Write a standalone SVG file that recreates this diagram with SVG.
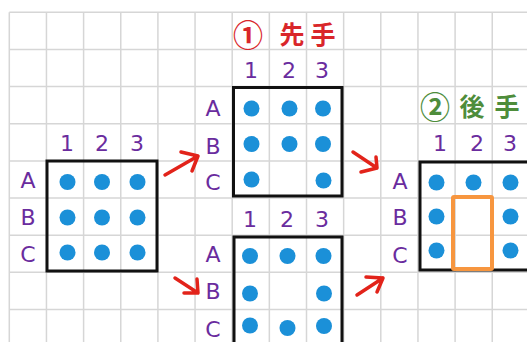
<svg xmlns="http://www.w3.org/2000/svg" width="527" height="342" viewBox="0 0 527 342">
<style>
.grid line{stroke:#d6d6d6;stroke-width:1.5}
.box{fill:none;stroke:#111;stroke-width:3}
.dot{fill:#1b90d8}
.lbl{font-family:"DejaVu Sans","Noto Sans",sans-serif;font-size:22px;fill:#6a2c9e;text-anchor:middle;dominant-baseline:central}
.hdr{font-family:"Noto Sans CJK JP","Noto Sans CJK SC",sans-serif;font-size:25px;font-weight:bold;text-anchor:middle;dominant-baseline:central}
.num{font-size:30px}
.arrow{fill:none;stroke:#e2231a;stroke-width:3.5;stroke-linecap:round;stroke-linejoin:round}
.sel{fill:none;stroke:#f7963f;stroke-width:4}
</style>
<rect width="527" height="342" fill="#fff"/>
<g class="grid">
<line x1="9.3" y1="12.3" x2="9.3" y2="342"/>
<line x1="46.45" y1="12.3" x2="46.45" y2="342"/>
<line x1="83.6" y1="12.3" x2="83.6" y2="342"/>
<line x1="120.75" y1="12.3" x2="120.75" y2="342"/>
<line x1="157.9" y1="12.3" x2="157.9" y2="342"/>
<line x1="195.05" y1="12.3" x2="195.05" y2="342"/>
<line x1="232.2" y1="12.3" x2="232.2" y2="342"/>
<line x1="269.35" y1="12.3" x2="269.35" y2="342"/>
<line x1="306.5" y1="12.3" x2="306.5" y2="342"/>
<line x1="343.65" y1="12.3" x2="343.65" y2="342"/>
<line x1="380.8" y1="12.3" x2="380.8" y2="342"/>
<line x1="417.95" y1="12.3" x2="417.95" y2="342"/>
<line x1="455.1" y1="12.3" x2="455.1" y2="342"/>
<line x1="492.25" y1="12.3" x2="492.25" y2="342"/>
<line x1="9.3" y1="12.3" x2="527" y2="12.3"/>
<line x1="9.3" y1="49.45" x2="527" y2="49.45"/>
<line x1="9.3" y1="86.6" x2="527" y2="86.6"/>
<line x1="9.3" y1="123.75" x2="527" y2="123.75"/>
<line x1="9.3" y1="160.9" x2="527" y2="160.9"/>
<line x1="9.3" y1="198.05" x2="527" y2="198.05"/>
<line x1="9.3" y1="235.2" x2="527" y2="235.2"/>
<line x1="9.3" y1="272.35" x2="527" y2="272.35"/>
<line x1="9.3" y1="309.5" x2="527" y2="309.5"/>
</g>

<g id="board-start">
<text class="lbl" x="67" y="143">1</text>
<text class="lbl" x="102" y="143">2</text>
<text class="lbl" x="137" y="143">3</text>
<text class="lbl" x="28" y="180">A</text>
<text class="lbl" x="28" y="217">B</text>
<text class="lbl" x="28" y="254">C</text>
<rect class="box" x="47" y="161" width="110" height="110"/>
<circle class="dot" cx="67.5" cy="182" r="8"/>
<circle class="dot" cx="102" cy="182" r="8"/>
<circle class="dot" cx="137.5" cy="182" r="8"/>
<circle class="dot" cx="67.5" cy="217.5" r="8"/>
<circle class="dot" cx="102" cy="217.5" r="8"/>
<circle class="dot" cx="137.5" cy="217.5" r="8"/>
<circle class="dot" cx="67.5" cy="252.5" r="8"/>
<circle class="dot" cx="102" cy="252.5" r="8"/>
<circle class="dot" cx="137.5" cy="252.5" r="8"/>
</g>

<g id="board-first">
<text class="hdr num" x="248" y="33" fill="#d9262a">①</text>
<text class="hdr" x="292" y="33" fill="#d9262a">先</text>
<text class="hdr" x="323" y="33" fill="#d9262a">手</text>
<text class="lbl" x="251" y="70">1</text>
<text class="lbl" x="289" y="70">2</text>
<text class="lbl" x="322" y="70">3</text>
<text class="lbl" x="213" y="108">A</text>
<text class="lbl" x="213" y="146">B</text>
<text class="lbl" x="213" y="182">C</text>
<rect class="box" x="233.5" y="87.5" width="108.5" height="108.5"/>
<circle class="dot" cx="251.5" cy="108.5" r="8"/>
<circle class="dot" cx="289.5" cy="108.5" r="8"/>
<circle class="dot" cx="323" cy="108.5" r="8"/>
<circle class="dot" cx="251.5" cy="144" r="8"/>
<circle class="dot" cx="289.5" cy="144" r="8"/>
<circle class="dot" cx="323" cy="144" r="8"/>
<circle class="dot" cx="251.5" cy="179.5" r="8"/>
<circle class="dot" cx="323.5" cy="180.5" r="8"/>
</g>

<g id="board-alt">
<text class="lbl" x="250" y="219">1</text>
<text class="lbl" x="287" y="219">2</text>
<text class="lbl" x="322" y="219">3</text>
<text class="lbl" x="213" y="254">A</text>
<text class="lbl" x="213" y="291">B</text>
<text class="lbl" x="213" y="329">C</text>
<path class="box" d="M234 345 V237 H342 V345"/>
<circle class="dot" cx="250" cy="256" r="8"/>
<circle class="dot" cx="287.5" cy="256" r="8"/>
<circle class="dot" cx="323.5" cy="256" r="8"/>
<circle class="dot" cx="250" cy="293.5" r="8"/>
<circle class="dot" cx="324" cy="293.5" r="8"/>
<circle class="dot" cx="250" cy="325.5" r="8"/>
<circle class="dot" cx="287.5" cy="328" r="8"/>
<circle class="dot" cx="324" cy="326" r="8"/>
</g>

<g id="board-second">
<text class="hdr num" x="435" y="105" fill="#4e8d3b">②</text>
<text class="hdr" x="472" y="105" fill="#4e8d3b">後</text>
<text class="hdr" x="507" y="105" fill="#4e8d3b">手</text>
<text class="lbl" x="440" y="143">1</text>
<text class="lbl" x="477" y="143">2</text>
<text class="lbl" x="510" y="143">3</text>
<text class="lbl" x="400" y="181">A</text>
<text class="lbl" x="400" y="217">B</text>
<text class="lbl" x="400" y="255">C</text>
<path class="box" d="M530 162 H420 V270 H530"/>
<circle class="dot" cx="436.5" cy="182.5" r="8"/>
<circle class="dot" cx="473.5" cy="182.5" r="8"/>
<circle class="dot" cx="510.5" cy="182.5" r="8"/>
<circle class="dot" cx="436.5" cy="216.5" r="8"/>
<circle class="dot" cx="510.5" cy="216.5" r="8"/>
<circle class="dot" cx="436.5" cy="250.5" r="8"/>
<circle class="dot" cx="510.5" cy="250.5" r="8"/>
<rect class="sel" x="453" y="197" width="39" height="72" rx="1"/>
</g>

<g id="connectors">
<path class="arrow" d="M165 175 L198 156 M181 152 L198 156 L192 171"/>
<path class="arrow" d="M175 278 L198 293 M197 279 L198 293 L184 293"/>
<path class="arrow" d="M353 152 L377 168 M376 157 L377 168 L361 172"/>
<path class="arrow" d="M357 295 L383 278 M366 277 L383 278 L377 292"/>
</g>
</svg>
